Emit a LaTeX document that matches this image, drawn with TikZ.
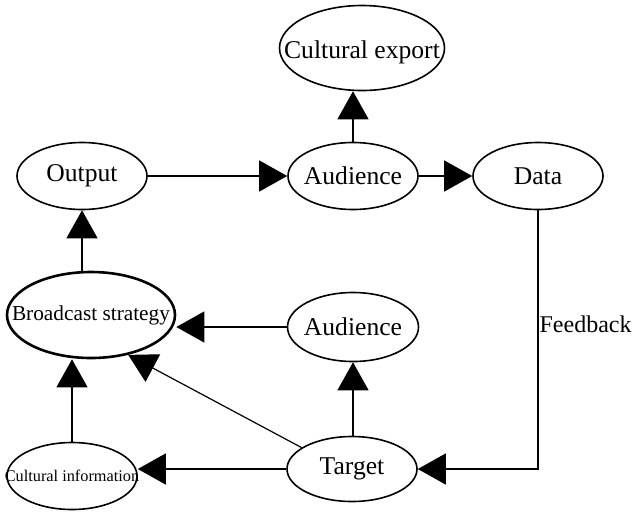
\documentclass[tikz,border=0pt]{standalone}
\usepackage{fontspec}
\setmainfont{Liberation Serif}
\usetikzlibrary{arrows.meta}
\usetikzlibrary{shapes.geometric}

\begin{document}
\begin{tikzpicture}[x=1pt,y=-1pt,
	box/.style = {ellipse,
		draw,
		line width=1.6pt,
		minimum width=130pt,
		minimum height=67pt},
	every label/.style = {font=\fontsize{25.6}{30}\selectfont},
	link/.style = {line width=1.2pt,
		-{Triangle[length=28pt,width=31pt]}}]
	
	\useasboundingbox (0,0) rectangle (636,512);
	
	% Top row
	\node[box,minimum width=165pt,minimum height=85pt,
		label={[yshift=-4pt]center:Cultural export}] (exp) at (362,48) {};
	\node[box,label=center:Output] (out) at (82,176) {};
	\node[box,label=center:Audience] (aud) at (353,176) {};
	\node[box,label=center:Data] (data) at (538,176) {};
	
	% Middle row
	\node[box,line width=2.6pt,minimum width=168pt,minimum height=86pt,
		label={[font=\fontsize{21.3}{25}\selectfont]center:Broadcast strategy}] (strat) at (91,315) {};
	\node[box,minimum width=131pt,minimum height=69pt,
		label=center:Audience] (aud2) at (353,327) {};
	
	% Bottom row
	\node[box,label={[font=\fontsize{16.3}{18}\selectfont]center:Cultural information}] (info) at (72,476) {};
	\node[box,minimum height=65pt,label=center:Target] (tgt) at (352,469) {};
	
	% Arrows
	\draw[link] (out) -- (aud);
	\draw[link] (aud.north) -- (aud.north |- exp.south);
	\draw[link] (aud) -- (data);
	\draw[link] (strat.north -| out) -- (out);
	\draw[link] (aud2) -- (strat.east |- aud2);
	\draw[link] (info) -- (info |- strat.south);
	\draw[link] (tgt.157) -- (strat.-47);
	\draw[link] (tgt.north -| aud2) -- (aud2);
	\draw[link] (tgt) -- (info.east |- tgt);
	
	% Feedback loop
	\draw[link] (data.south) |- node[pos=0.22,right,inner sep=1pt,font=\fontsize{24}{28}\selectfont]{Feedback} (tgt.east);
	
\end{tikzpicture}
\end{document}
